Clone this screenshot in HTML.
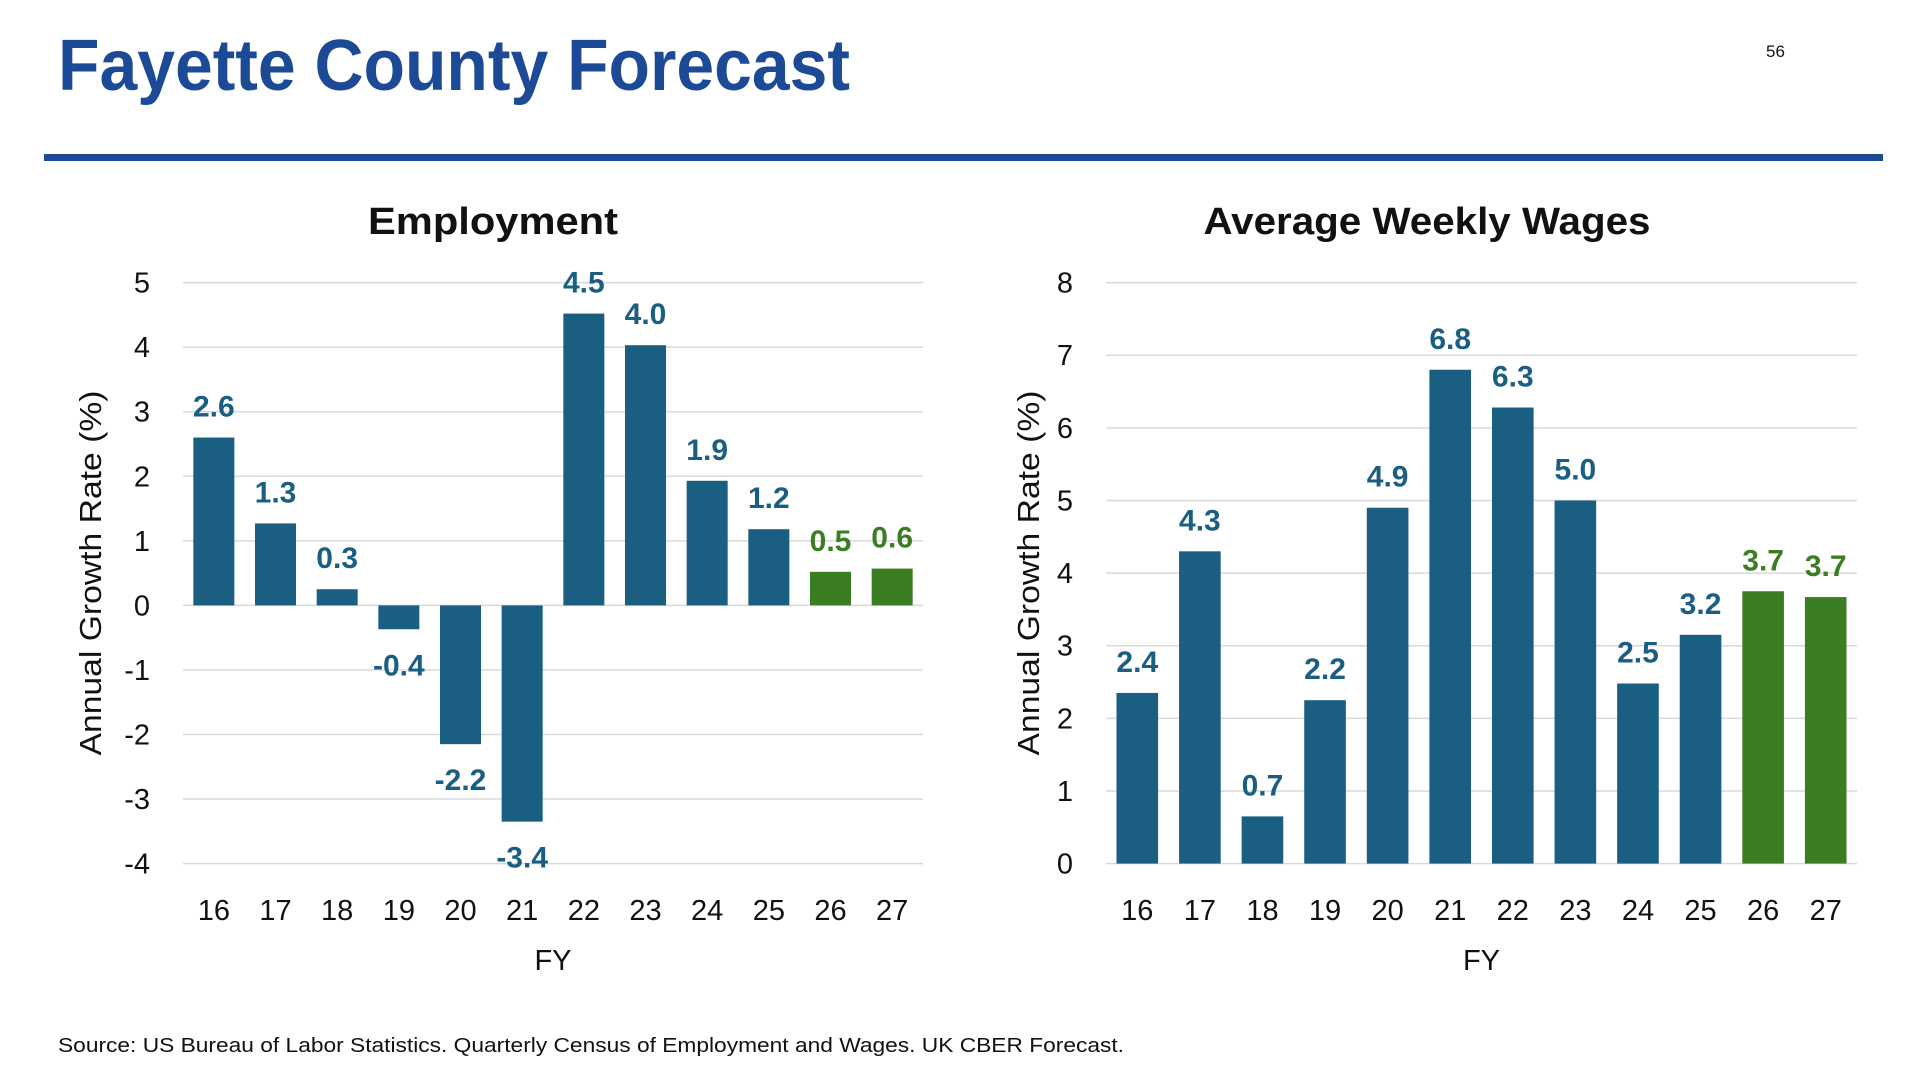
<!DOCTYPE html>
<html><head><meta charset="utf-8"><style>
html,body{margin:0;padding:0;background:#fff;}
svg{display:block;font-family:"Liberation Sans",sans-serif;}
</style></head><body>
<svg id="s" width="1910" height="1074" viewBox="0 0 1910 1074">
<text x="58" y="90" font-size="72" font-weight="bold" fill="#1c4a96" textLength="792" lengthAdjust="spacingAndGlyphs">Fayette County Forecast</text>
<text x="1766" y="57" font-size="17" fill="#111">56</text>
<rect x="44" y="154" width="1839" height="7" fill="#1c4a96"/>
<text x="58" y="1052" font-size="20" fill="#111" textLength="1066" lengthAdjust="spacingAndGlyphs">Source: US Bureau of Labor Statistics. Quarterly Census of Employment and Wages. UK CBER Forecast.</text>
<g id="c1"></g>
<g id="c2"></g>
</svg>
<script>
const categories = ["16","17","18","19","20","21","22","23","24","25","26","27"];
const empValues = [2.6,1.27,0.25,-0.37,-2.15,-3.35,4.52,4.03,1.93,1.18,0.52,0.57];
const empLabels = ["2.6","1.3","0.3","-0.4","-2.2","-3.4","4.5","4.0","1.9","1.2","0.5","0.6"];
const empTicks = [5,4,3,2,1,0,-1,-2,-3,-4];
const wageValues = [2.35,4.3,0.65,2.25,4.9,6.8,6.28,5.0,2.48,3.15,3.75,3.67];
const wageLabels = ["2.4","4.3","0.7","2.2","4.9","6.8","6.3","5.0","2.5","3.2","3.7","3.7"];
const wageTicks = [8,7,6,5,4,3,2,1,0];
const forecastFlags = [0,0,0,0,0,0,0,0,0,0,1,1];
const NS="http://www.w3.org/2000/svg";
function mk(parent,tag,attrs,txt){const e=document.createElementNS(NS,tag);for(const k in attrs)e.setAttribute(k,attrs[k]);if(txt!==undefined)e.textContent=txt;parent.appendChild(e);return e;}
function chart(g,cfg){
  const {x0,x1,yTop,yBot,vmax,vmin,values,labels,ticks,title,titleX,titleW,tickX,axisTitleX,prefix}=cfg;
  const y=v=>yTop+(vmax-v)*(yBot-yTop)/(vmax-vmin);
  const step=(x1-x0)/categories.length;
  const bw=step*0.665;
  const t=mk(g,"text",{x:titleX,y:234,"font-size":38,"font-weight":"bold",fill:"#111","text-anchor":"middle",textLength:titleW,lengthAdjust:"spacingAndGlyphs"},title);
  
  
  ticks.forEach(v=>{
    const l=mk(g,"line",{x1:x0,x2:x1,y1:y(v),y2:y(v),stroke:"#d9d9d9","stroke-width":1.5});
    
    
    const tl=mk(g,"text",{x:tickX,y:y(v)+10,"font-size":29,fill:"#111","text-anchor":"end"},String(v));
    
    
  });
  values.forEach((v,i)=>{
    const cx=x0+step*(i+0.5);
    const col=forecastFlags[i]?"#3a7d23":"#1a5f82";
    const top=Math.min(y(v),y(0)),h=Math.abs(y(v)-y(0));
    const b=mk(g,"rect",{x:cx-bw/2,y:top,width:bw,height:h,fill:col});
    
    
    const ly=v>=0?y(v)-21:y(v)+46;
    const lb=mk(g,"text",{x:cx,y:ly,"font-size":30,"font-weight":"bold",fill:col,"text-anchor":"middle"},labels[i]);
    
    
    const xl=mk(g,"text",{x:cx,y:920,"font-size":29,fill:"#111","text-anchor":"middle"},categories[i]);
    
    
  });
  const fy=mk(g,"text",{x:(x0+x1)/2,y:970,"font-size":29,fill:"#111","text-anchor":"middle"},"FY");
  
  
  const cy=573;
  const at=mk(g,"text",{x:axisTitleX,y:cy,"font-size":31,fill:"#111","text-anchor":"middle",textLength:365,lengthAdjust:"spacingAndGlyphs",transform:`rotate(-90 ${axisTitleX} ${cy})`,dy:10},"Annual Growth Rate (%)");
  
  
}
chart(document.getElementById("c1"),{x0:183,x1:923,yTop:282.6,yBot:863.6,vmax:5,vmin:-4,values:empValues,labels:empLabels,ticks:empTicks,title:"Employment",titleX:493,titleW:250,tickX:150,axisTitleX:91,prefix:"employment"});
chart(document.getElementById("c2"),{x0:1106,x1:1857,yTop:282.6,yBot:863.6,vmax:8,vmin:0,values:wageValues,labels:wageLabels,ticks:wageTicks,title:"Average Weekly Wages",titleX:1427,titleW:447,tickX:1073,axisTitleX:1029,prefix:"wages"});
</script>
</body></html>
